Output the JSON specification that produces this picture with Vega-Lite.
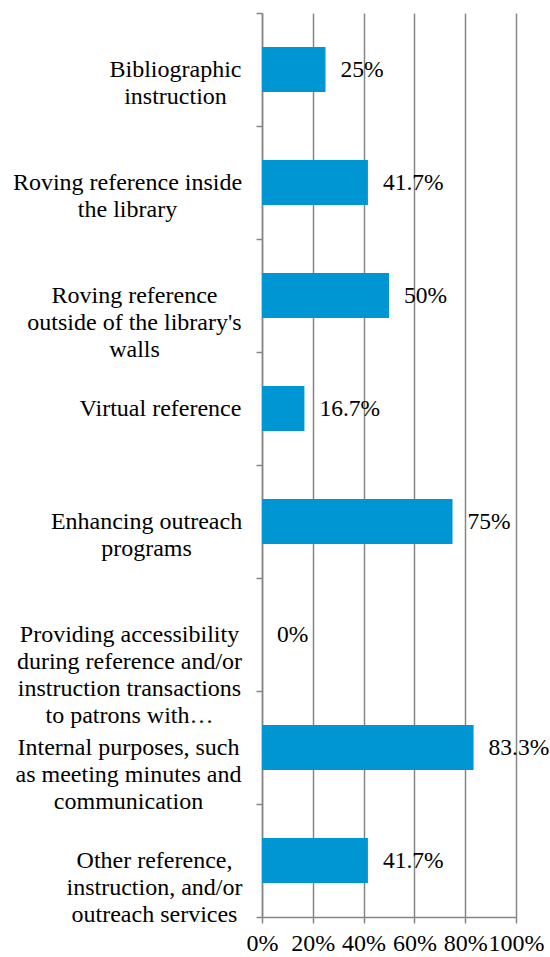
{
  "$schema": "https://vega.github.io/schema/vega-lite/v6.json",
  "width": 254,
  "height": 904,
  "autosize": {"type": "none"},
  "padding": {"left": 262, "top": 13, "right": 34, "bottom": 40},
  "background": "white",
  "config": {"view": {"stroke": null}, "font": "Liberation Serif, Times New Roman, serif"},
  "data": {
    "values": [
      {"category": "Bibliographic instruction", "share": 0.25},
      {"category": "Roving reference inside the library", "share": 0.417},
      {"category": "Roving reference outside of the library's walls", "share": 0.5},
      {"category": "Virtual reference", "share": 0.167},
      {"category": "Enhancing outreach programs", "share": 0.75},
      {"category": "Providing accessibility during reference and/or instruction transactions to patrons with…", "share": 0},
      {"category": "Internal purposes, such as meeting minutes and communication", "share": 0.833},
      {"category": "Other reference, instruction, and/or outreach services", "share": 0.417}
    ]
  },
  "encoding": {
    "y": {
      "field": "category",
      "type": "nominal",
      "sort": null,
      "scale": {"paddingInner": 0, "paddingOuter": 0},
      "axis": {
        "title": null,
        "grid": false,
        "domainColor": "#868686",
        "domainWidth": 1.5,
        "tickColor": "#868686",
        "tickWidth": 1.5,
        "tickSize": 6,
        "tickBand": "extent",
        "labelFont": "Liberation Serif, Times New Roman, serif",
        "labelFontSize": 24,
        "labelColor": "#000000",
        "labelAlign": "center",
        "labelBaseline": "middle",
        "labelLineHeight": 27,
        "labelLimit": 0,
        "labelExpr": "{'Bibliographic instruction': ['Bibliographic','instruction'], 'Roving reference inside the library': ['Roving reference inside','the library'], 'Roving reference outside of the library\\'s walls': ['Roving reference','outside of the library\\'s','walls'], 'Virtual reference': ['Virtual reference'], 'Enhancing outreach programs': ['Enhancing outreach','programs'], 'Providing accessibility during reference and/or instruction transactions to patrons with…': ['Providing accessibility','during reference and/or','instruction transactions','to patrons with…'], 'Internal purposes, such as meeting minutes and communication': ['Internal purposes, such','as meeting minutes and','communication'], 'Other reference, instruction, and/or outreach services': ['Other reference,','instruction, and/or','outreach services']}[datum.value]",
        "labelPadding": {"expr": "{'Bibliographic instruction': 81, 'Roving reference inside the library': 129, 'Roving reference outside of the library\\'s walls': 122, 'Virtual reference': 96, 'Enhancing outreach programs': 110, 'Providing accessibility during reference and/or instruction transactions to patrons with…': 127, 'Internal purposes, such as meeting minutes and communication': 128, 'Other reference, instruction, and/or outreach services': 102}[datum.value]"}
      }
    },
    "x": {
      "field": "share",
      "type": "quantitative",
      "scale": {"domain": [0, 1], "nice": false},
      "axis": {
        "title": null,
        "grid": true,
        "gridColor": "#868686",
        "gridWidth": 1.5,
        "domainColor": "#868686",
        "domainWidth": 1.5,
        "tickColor": "#868686",
        "tickWidth": 1.5,
        "tickSize": 6,
        "values": [0, 0.2, 0.4, 0.6, 0.8, 1],
        "format": "~%",
        "labelFont": "Liberation Serif, Times New Roman, serif",
        "labelFontSize": 24,
        "labelColor": "#000000",
        "labelPadding": 8,
        "labelFlush": false,
        "labelOverlap": false
      }
    }
  },
  "layer": [
    {"mark": {"type": "bar", "color": "#0096D3", "height": {"band": 0.4}}},
    {
      "mark": {"type": "text", "align": "left", "baseline": "middle", "dx": 15, "fontSize": 23.5, "font": "Liberation Serif, Times New Roman, serif", "color": "#000000"},
      "encoding": {"text": {"field": "share", "type": "quantitative", "format": ".1~%"}}
    }
  ]
}
